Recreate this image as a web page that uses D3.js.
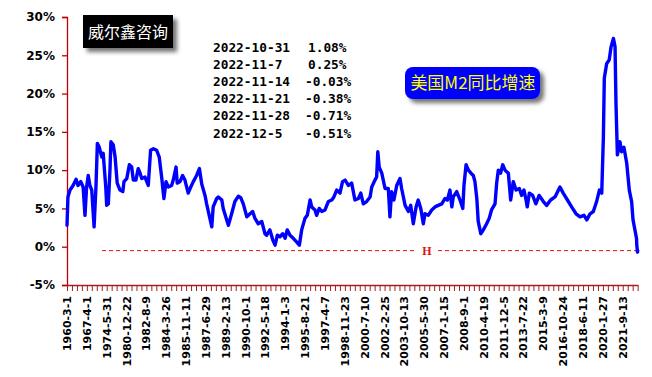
<!DOCTYPE html>
<html><head><meta charset="utf-8">
<script src="https://cdn.jsdelivr.net/npm/d3@7"></script>
<style>body{margin:0;background:#fff}svg{display:block}</style>
</head><body>
<svg id="c" width="652" height="377"></svg>
<script>
// Tick labels along the category axis (every 85th observation)
const xLabels = ["1960-3-1","1967-4-1","1974-5-31","1980-12-22","1982-8-9","1984-3-26","1985-11-11","1987-6-29","1989-2-13","1990-10-1","1992-5-18","1994-1-3","1995-8-21","1997-4-7","1998-11-23","2000-7-10","2002-2-25","2003-10-13","2005-5-30","2007-1-15","2008-9-1","2010-4-19","2011-12-5","2013-7-22","2015-3-9","2016-10-24","2018-6-11","2020-1-27","2021-9-13"];
const labelStep = 85;
const nObs = 2445;
const yTicks = [-5,0,5,10,15,20,25,30];
// observation index of each read point
const obsIdx = [0,4,13,26,39,47,59,69,77,84,91,98,106,116,124,130,138,149,155,166,170,177,184,188,198,206,215,227,239,244,256,267,277,284,295,305,313,320,334,348,358,370,384,395,406,415,424,434,448,455,467,472,484,495,505,519,530,541,555,567,577,591,598,609,620,626,641,648,663,669,684,691,705,719,734,744,755,770,784,795,805,819,834,848,855,869,881,891,901,912,924,934,943,955,969,984,995,1005,1019,1029,1041,1048,1062,1069,1080,1091,1105,1119,1134,1143,1155,1169,1180,1191,1205,1219,1233,1248,1258,1269,1283,1298,1305,1319,1326,1331,1337,1348,1362,1376,1383,1390,1400,1412,1426,1433,1448,1462,1472,1483,1495,1504,1515,1526,1533,1547,1562,1576,1590,1605,1619,1629,1640,1648,1654,1669,1683,1695,1700,1709,1719,1730,1740,1747,1755,1761,1772,1783,1797,1808,1818,1833,1840,1847,1857,1866,1876,1890,1900,1911,1923,1937,1947,1957,1966,1971,1980,1994,2008,2022,2040,2054,2071,2090,2111,2125,2143,2161,2180,2197,2214,2226,2240,2254,2268,2280,2290,2297,2301,2311,2322,2330,2340,2347,2351,2357,2368,2375,2385,2397,2408,2418,2424,2439,2440,2441,2442,2443,2444];
// US M2 YoY growth, %
const m2Growth = [2.8,6.5,7.4,8.0,8.8,8.0,8.5,7.8,4.1,7.8,9.3,8.0,7.4,2.6,7.8,13.5,13.0,11.7,12.2,7.8,5.4,5.6,10.0,13.7,13.3,11.7,8.3,7.4,7.2,8.5,8.9,10.7,10.4,8.7,8.7,10.2,9.6,8.9,9.1,8.0,12.6,12.8,12.6,11.7,8.9,6.3,8.5,7.8,8.0,8.7,10.4,8.3,8.5,9.3,8.7,7.0,7.8,8.5,9.3,10.2,8.2,6.7,5.6,4.1,2.6,5.2,6.3,6.5,6.1,5.0,3.5,2.8,4.3,5.9,6.6,6.4,5.6,3.9,4.3,4.6,3.7,3.0,3.3,1.7,1.5,2.2,0.9,0.2,1.5,1.3,1.7,1.1,2.2,1.5,1.1,0.6,0.2,2.2,3.7,4.1,6.1,5.2,4.8,4.1,5.0,4.6,4.8,5.9,6.1,6.5,7.4,7.0,8.5,8.7,8.0,8.3,6.1,6.3,7.0,5.6,5.9,6.5,7.8,8.7,9.1,12.4,10.4,9.6,7.6,7.6,3.9,7.2,6.1,8.0,8.9,7.6,5.4,4.6,5.4,3.0,5.2,6.1,5.0,3.0,4.3,4.1,4.8,5.2,5.4,5.6,6.3,6.1,7.4,5.2,6.5,7.2,6.1,5.0,8.0,10.7,10.0,9.6,9.3,8.5,6.3,3.3,1.7,2.2,3.0,3.7,4.8,5.6,8.3,10.0,9.6,10.7,10.0,9.6,6.1,8.5,7.4,7.6,6.7,7.4,6.1,5.2,7.0,6.7,5.6,6.7,5.9,5.4,6.1,6.5,7.8,7.0,6.1,5.2,4.3,3.9,4.1,3.5,4.3,4.6,5.9,7.4,7.0,14.3,22.0,23.9,24.4,26.1,27.2,26.1,18.7,12.0,13.7,12.4,13.0,10.9,7.4,5.9,3.5,1.08,0.25,-0.03,-0.38,-0.71,-0.51];
const recentDates = ["2022-10-31","2022-11-7","2022-11-14","2022-11-21","2022-11-28","2022-12-5"];
const recentValues = ["1.08%","0.25%","-0.03%","-0.38%","-0.71%","-0.51%"];
const seriesName = "美国M2同比增速";
const brand = "威尔鑫咨询";
const lastValue = -0.51;

const svg = d3.select("#c");
const m = {l:67, r:637.7, t:17, b:285};
const x = d3.scaleLinear().domain([0, nObs-1]).range([m.l, m.r]);
const y = d3.scaleLinear().domain([-5,30]).range([m.b, m.t]);
const axisRed = "#c00000";

const defs = svg.append("defs");
const f = defs.append("filter").attr("id","sh").attr("x","-20%").attr("y","-20%").attr("width","150%").attr("height","160%");
f.append("feDropShadow").attr("dx",4).attr("dy",4).attr("stdDeviation",2).attr("flood-color","#000").attr("flood-opacity",0.55);

// y axis
const ya = svg.append("g").attr("transform",`translate(${m.l},0)`)
  .call(d3.axisLeft(y).tickValues(yTicks).tickFormat(d=>d+"%").tickSize(5).tickPadding(7));
ya.select(".domain").attr("stroke",axisRed).attr("stroke-width",1.3);
ya.selectAll(".tick line").attr("stroke",axisRed).attr("stroke-width",1.3);
ya.selectAll(".tick text").attr("font-family","DejaVu Sans").attr("font-weight","bold").attr("font-size",12).attr("fill","#000");

// x axis minor ticks
const xa = svg.append("g").attr("transform",`translate(0,${m.b})`)
  .call(d3.axisBottom(x).tickValues(d3.range(0,nObs,labelStep/4)).tickFormat("").tickSize(6).tickSizeOuter(0));
xa.select(".domain").attr("stroke","#a02020").attr("stroke-width",1.3);
xa.selectAll(".tick line").attr("stroke","#a02020").attr("stroke-width",1);

// x labels
svg.append("g").selectAll("text").data(xLabels).join("text")
  .attr("transform",(d,i)=>`translate(${x(i*labelStep)},296) rotate(-90)`)
  .attr("text-anchor","end").attr("dy","0.36em")
  .attr("font-family","DejaVu Sans").attr("font-weight","bold").attr("font-size",11).attr("fill","#000")
  .text(d=>d);

// dashed reference line at the latest value
const yl = y(lastValue);
svg.append("line").attr("x1",x(150)).attr("x2",x(nObs-1)).attr("y1",yl).attr("y2",yl)
  .attr("stroke","#e01010").attr("stroke-width",1).attr("stroke-dasharray","4,3");
svg.append("rect").attr("x",417).attr("y",yl-7).attr("width",20).attr("height",14).attr("fill","#fff");
svg.append("text").attr("x",427).attr("y",yl).attr("dy","0.35em").attr("text-anchor","middle")
  .attr("font-family","Liberation Serif").attr("font-weight","bold").attr("font-size",12).attr("fill","#e01010").text("H");

// series line
const line = d3.line().x((d,i)=>x(obsIdx[i])).y(d=>y(d));
svg.append("path").datum(m2Growth).attr("d",line).attr("fill","none")
  .attr("stroke","#0000ff").attr("stroke-width",3.4).attr("stroke-linejoin","round").attr("stroke-linecap","round");

// brand box
svg.append("rect").attr("x",83).attr("y",15).attr("width",90).attr("height",33).attr("fill","#000").attr("filter","url(#sh)");
svg.append("text").attr("x",128).attr("y",32).attr("dy","0.36em").attr("text-anchor","middle")
  .attr("font-family","Noto Sans CJK SC").attr("font-size",16).attr("fill","#fff").text(brand);

// recent values
const ann = svg.append("g").attr("font-family","DejaVu Sans Mono").attr("font-weight","bold").attr("font-size",12.8).attr("fill","#000");
ann.selectAll("text.d").data(recentDates).join("text").attr("class","d")
  .attr("x",213).attr("y",(d,i)=>47+i*17.2).attr("dy","0.36em").text(d=>d);
ann.selectAll("text.v").data(recentValues).join("text").attr("class","v")
  .attr("x",d=>d.startsWith("-")?305:308).attr("y",(d,i)=>47+i*17.2).attr("dy","0.36em").text(d=>d);

// legend box
svg.append("rect").attr("x",405).attr("y",67).attr("width",135).attr("height",32).attr("rx",8).attr("fill","#0000ff").attr("filter","url(#sh)");
svg.append("text").attr("x",473).attr("y",83).attr("dy","0.36em").attr("text-anchor","middle")
  .attr("font-family","Noto Sans CJK SC").attr("font-size",17).attr("fill","#ffff00").text(seriesName);
</script>
</body></html>
